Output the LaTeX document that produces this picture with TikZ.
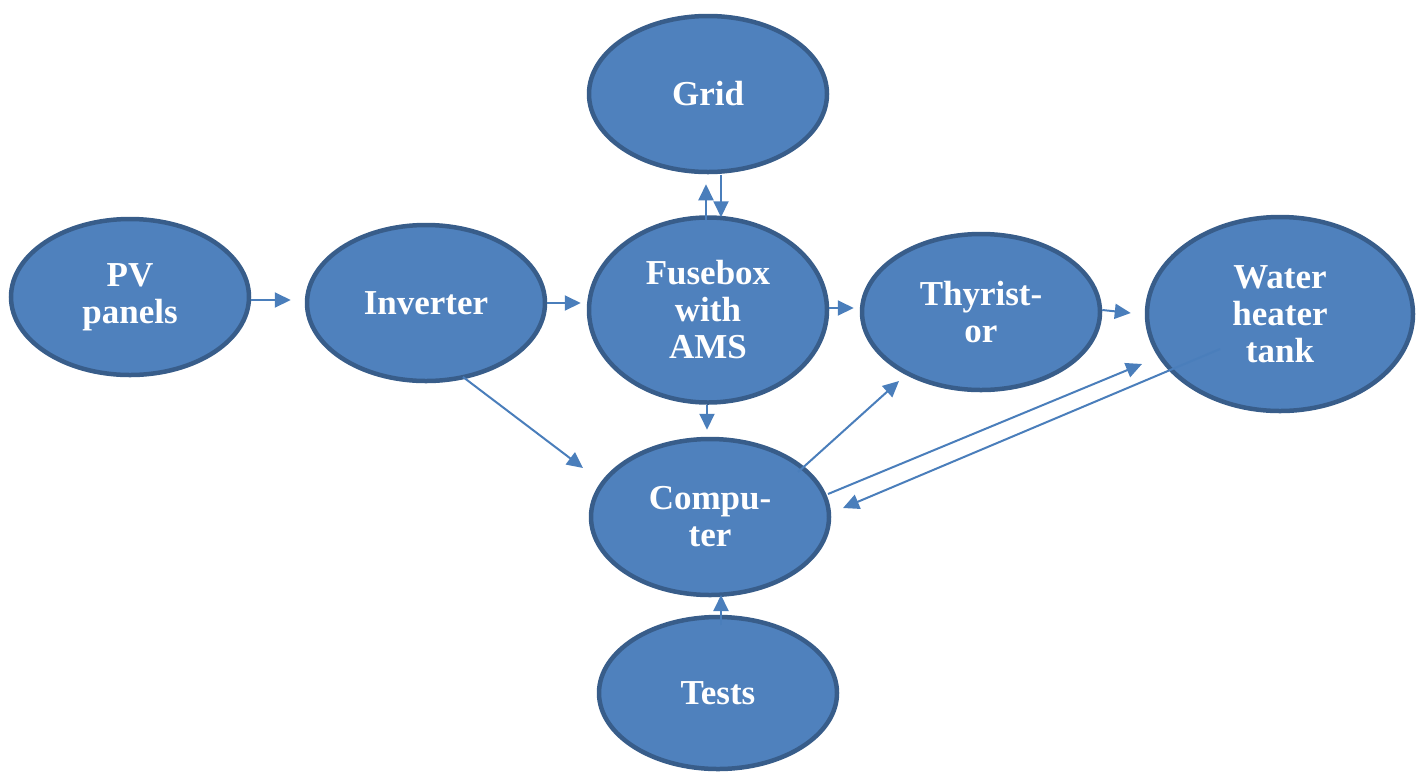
\documentclass[tikz,border=0pt]{standalone}
\usepackage{fontspec}
\setmainfont{Liberation Serif}
\usetikzlibrary{shapes.geometric,arrows.meta}
\usepackage{xcolor}
\definecolor{boxblue}{HTML}{4F81BD}
\definecolor{rimblue}{HTML}{385D8A}
\definecolor{flowblue}{HTML}{4A7EBB}

\tikzset{
  unit/.style={ellipse,fill=boxblue,draw=rimblue,line width=4.5pt,inner sep=0pt,
    minimum width=238pt,minimum height=156pt,text=white,align=center,
    font=\fontsize{35}{37}\selectfont\bfseries}
}

\begin{document}
\begin{tikzpicture}[x=1pt,y=-1pt,->,>={Triangle[length=16pt,width=15pt]},line width=2pt,color=flowblue]
  \useasboundingbox (0,0) rectangle (1421,772);

  \node[unit]                                  (pv)    at (130,297)  {PV\\panels};
  \node[unit]                                  (inv)   at (426,303)  {Inverter};
  \node[unit]                                  (grid)  at (708,94)   {Grid};
  \node[unit,minimum height=185pt]             (fuse)  at (708,310)  {Fusebox\\with\\AMS};
  \node[unit]                                  (thy)   at (981,312)  {Thyrist-\\or};
  \node[unit,minimum width=266pt,minimum height=194pt] (water) at (1280,314) {Water\\heater\\tank};
  \node[unit]                                  (comp)  at (710,517)  {Compu-\\ter};
  \node[unit,minimum height=152pt]             (tests) at (718,693)  {Tests};

  \path ([shift={(0,3)}]pv.east)       edge ([shift={(-14,-3)}]inv.west)
        (inv.east)                     edge ([shift={(-6,-7)}]fuse.west)
        ([shift={(0,-2)}]fuse.east)    edge ([shift={(-6,-4)}]thy.west)
        ([shift={(0,-2)}]thy.east)     edge ([shift={(-14,-1)}]water.west)
        ([shift={(-2,5)}]fuse.north)   edge ([shift={(-2,10)}]grid.south)
        ([shift={(13,1)}]grid.south)   edge ([shift={(13,2)}]fuse.north)
        ([shift={(-1,0)}]fuse.south)   edge ([shift={(-3,-7)}]comp.north)
        ([shift={(37,74)}]inv.center)  edge ([shift={(-127,-49)}]comp.center)
        ([shift={(88,-45)}]comp.center) edge ([shift={(-82,69)}]thy.center)
        ([shift={(118,-23)}]comp.center) edge ([shift={(-138,50)}]water.center)
        ([shift={(-60,35)}]water.center) edge ([shift={(133,-9)}]comp.center)
        ([shift={(3,-68)}]tests.center) edge ([shift={(11,78)}]comp.center);
\end{tikzpicture}
\end{document}
